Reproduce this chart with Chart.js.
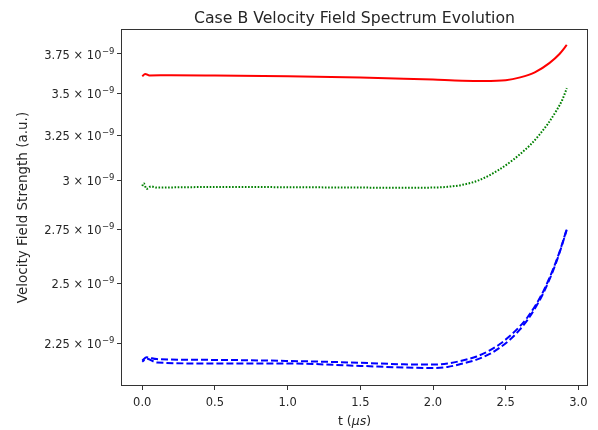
<!DOCTYPE html>
<html>
<head>
<meta charset="utf-8">
<script src="https://cdn.jsdelivr.net/npm/chart.js@4.4.1/dist/chart.umd.min.js"></script>
<style>
html,body{margin:0;padding:0;background:#fff;}
#wrap{width:598px;height:430px;}
</style>
</head>
<body>
<div id="wrap"><canvas id="c" width="598" height="430"></canvas></div>
<script>
// ---- data ----
const tRed  = [0, 0.02, 0.05, 0.2, 0.5, 1.0, 1.5, 1.8, 2.0, 2.2, 2.35, 2.5, 2.6, 2.7, 2.8, 2.87, 2.92];
const vRed  = [3.605e-9, 3.62e-9, 3.61e-9, 3.612e-9, 3.61e-9, 3.605e-9, 3.597e-9, 3.59e-9, 3.584e-9, 3.577e-9, 3.575e-9, 3.58e-9, 3.598e-9, 3.63e-9, 3.69e-9, 3.75e-9, 3.81e-9];

const tGreen = [0, 0.01, 0.03, 0.06, 0.1, 0.3, 0.6, 1.0, 1.5, 1.8, 2.0, 2.1, 2.2, 2.32, 2.45, 2.55, 2.61, 2.67, 2.73, 2.79, 2.85, 2.89, 2.92];
const vGreen = [2.97e-9, 2.985e-9, 2.955e-9, 2.968e-9, 2.962e-9, 2.964e-9, 2.965e-9, 2.964e-9, 2.962e-9, 2.961e-9, 2.962e-9, 2.966e-9, 2.976e-9, 3.002e-9, 3.055e-9, 3.11e-9, 3.15e-9, 3.194e-9, 3.25e-9, 3.315e-9, 3.395e-9, 3.46e-9, 3.53e-9];

const tBlue  = [0, 0.03, 0.1, 0.5, 1.0, 1.5, 1.8, 2.0, 2.1, 2.19, 2.3, 2.39, 2.46, 2.53, 2.6, 2.65, 2.71, 2.76, 2.83, 2.88, 2.92];
const vBlueA = [2.183e-9, 2.195e-9, 2.188e-9, 2.185e-9, 2.181e-9, 2.174e-9, 2.168e-9, 2.167e-9, 2.171e-9, 2.181e-9, 2.198e-9, 2.222e-9, 2.247e-9, 2.28e-9, 2.32e-9, 2.356e-9, 2.411e-9, 2.468e-9, 2.571e-9, 2.664e-9, 2.754e-9];
const vBlueB = [2.178e-9, 2.19e-9, 2.175e-9, 2.171e-9, 2.171e-9, 2.162e-9, 2.156e-9, 2.154e-9, 2.158e-9, 2.169e-9, 2.186e-9, 2.208e-9, 2.233e-9, 2.265e-9, 2.307e-9, 2.345e-9, 2.402e-9, 2.46e-9, 2.565e-9, 2.66e-9, 2.75e-9];

const xTickValues = [0, 0.5, 1.0, 1.5, 2.0, 2.5, 3.0];
const xTickLabels = ['0.0', '0.5', '1.0', '1.5', '2.0', '2.5', '3.0'];
const yTickValues = [2.25e-9, 2.5e-9, 2.75e-9, 3e-9, 3.25e-9, 3.5e-9, 3.75e-9];
const yTickMantissa = ['2.25', '2.5', '2.75', '3', '3.25', '3.5', '3.75'];
const yTickExponent = '−9';

const titleText = 'Case B Velocity Field Spectrum Evolution';
const xTitleParts = ['t (', 'μs', ')'];
const yTitle = 'Velocity Field Strength (a.u.)';

// ---- build ----
const pts = (t, v) => t.map((x, i) => ({x: x, y: v[i]}));
const FONT = "'DejaVu Sans', sans-serif";
const TXT = '#262626';

const decorPlugin = {
  id: 'decor',
  afterDatasetsDraw(chart) {
    const a = chart.chartArea, ctx = chart.ctx;
    ctx.save();
    // frame
    ctx.strokeStyle = '#333';
    ctx.lineWidth = 1;
    ctx.strokeRect(Math.round(a.left) + 0.5, Math.round(a.top) + 0.5, Math.round(a.right - a.left) - 1, Math.round(a.bottom - a.top) - 1);
    // title, centred over plot area
    ctx.fillStyle = TXT;
    ctx.textAlign = 'center';
    ctx.textBaseline = 'alphabetic';
    ctx.font = "15.7px " + FONT;
    ctx.fillText(titleText, (a.left + a.right) / 2, 23.3);
    // y tick labels with superscript exponent
    const ys = chart.scales.y;
    ctx.textAlign = 'left';
    yTickValues.forEach((v, i) => {
      const py = ys.getPixelForValue(v);
      const base = yTickMantissa[i] + ' × 10';
      ctx.font = "11.5px " + FONT;
      const wb = ctx.measureText(base).width;
      ctx.font = "8.5px " + FONT;
      const we = ctx.measureText(yTickExponent).width;
      const right = a.left - 6.5;
      const x0 = right - we - 0.5 - wb;
      ctx.font = "11.5px " + FONT;
      ctx.fillText(base, x0, py + 4.6);
      ctx.font = "8.5px " + FONT;
      ctx.fillText(yTickExponent, x0 + wb + 0.5, py - 0.4);
    });
    // x axis title with italic unit
    ctx.font = "12.5px " + FONT;
    const w0 = ctx.measureText(xTitleParts[0]).width;
    const w2 = ctx.measureText(xTitleParts[2]).width;
    ctx.font = "italic 12.5px " + FONT;
    const w1 = ctx.measureText(xTitleParts[1]).width;
    let xs = (a.left + a.right) / 2 - (w0 + w1 + w2) / 2;
    const by = 424.5;
    ctx.font = "12.5px " + FONT;
    ctx.fillText(xTitleParts[0], xs, by);
    ctx.font = "italic 12.5px " + FONT;
    ctx.fillText(xTitleParts[1], xs + w0, by);
    ctx.font = "12.5px " + FONT;
    ctx.fillText(xTitleParts[2], xs + w0 + w1, by);
    ctx.restore();
  }
};

const common = {pointRadius: 0, borderWidth: 2, fill: false, cubicInterpolationMode: 'monotone'};

new Chart(document.getElementById('c'), {
  type: 'line',
  data: {
    datasets: [
      Object.assign({label: 'red', data: pts(tRed, vRed), borderColor: '#ff0000'}, common),
      Object.assign({label: 'green', data: pts(tGreen, vGreen), borderColor: '#008000', borderDash: [1.6, 1.6]}, common),
      Object.assign({label: 'blueA', data: pts(tBlue, vBlueA), borderColor: '#0000ff', borderDash: [7, 3]}, common),
      Object.assign({label: 'blueB', data: pts(tBlue, vBlueB), borderColor: '#0000ff', borderDash: [7, 3], borderDashOffset: 4}, common)
    ]
  },
  options: {
    responsive: false,
    animation: false,
    layout: {padding: {left: 0, right: 10, top: 29, bottom: 0}},
    plugins: {
      legend: {display: false},
      tooltip: {enabled: false},
      title: {display: false}
    },
    scales: {
      x: {
        type: 'linear', min: -0.146, max: 3.066,
        afterBuildTicks(s) { s.ticks = xTickValues.map(v => ({value: v})); },
        afterFit(s) { s.height = 44; },
        ticks: {
          autoSkip: false, maxRotation: 0, padding: 6, color: TXT,
          font: {family: FONT, size: 11.5},
          callback(v) { const i = xTickValues.indexOf(v); return i >= 0 ? xTickLabels[i] : ''; }
        },
        grid: {drawOnChartArea: false, drawTicks: true, tickLength: 4, tickColor: '#333'},
        border: {display: false}
      },
      y: {
        type: 'logarithmic', min: 2.0866e-9, max: 3.919e-9,
        afterBuildTicks(s) { s.ticks = yTickValues.map(v => ({value: v})); },
        afterFit(s) { s.width = 121; },
        ticks: { display: true, autoSkip: false, color: 'rgba(0,0,0,0)', callback() { return ''; } },
        grid: {drawOnChartArea: false, drawTicks: true, tickLength: 4, tickColor: '#333'},
        border: {display: false},
        title: {display: true, text: yTitle, color: TXT, font: {family: FONT, size: 13.5}, padding: {top: 15, bottom: 0}}
      }
    }
  },
  plugins: [decorPlugin]
});
</script>
</body>
</html>
